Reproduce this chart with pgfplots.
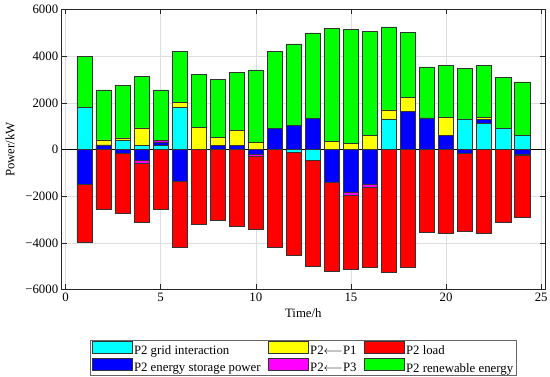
\documentclass[border=0pt]{standalone}
\usepackage{pgfplots}
\pgfplotsset{compat=1.18}
\usepackage{pgfplotstable}
\usepackage{fontspec}
\setmainfont{Liberation Serif}

\pgfplotstableread{
h grid stor p1 p3 load ren
1 1790 -1470 0 0 -2520 2200
2 0 200 210 0 -2560 2150
3 380 -180 120 0 -2570 2243
4 170 -470 760 -140 -2520 2200
5 170 120 0 100 -2560 2170
6 1810 -1370 210 0 -2840 2190
7 0 0 960 0 -3210 2250
8 0 170 360 0 -3020 2490
9 0 170 640 0 -3290 2490
10 0 -200 300 -100 -3110 3110
11 0 910 0 0 -4210 3300
12 -130 1040 0 0 -4410 3490
13 -440 1330 0 0 -4560 3670
14 0 -1420 360 0 -3780 4840
15 0 -1840 270 -140 -3170 4880
16 0 -1480 610 -120 -3460 4450
17 1310 0 390 0 -5250 3550
18 0 1640 600 0 -5040 2790
19 0 1360 0 0 -3540 2180
20 0 600 790 0 -3590 2200
21 1310 -140 0 0 -3360 2180
22 1130 170 90 0 -3610 2200
23 900 0 0 0 -3110 2200
24 600 -200 0 -60 -2640 2300
}\datatable

\definecolor{edgec}{gray}{0.2}
\definecolor{cC}{rgb}{0,1,1}
\definecolor{cB}{rgb}{0,0,1}
\definecolor{cY}{rgb}{1,1,0}
\definecolor{cM}{rgb}{1,0,1}
\definecolor{cR}{rgb}{1,0,0}
\definecolor{cG}{rgb}{0,1,0}
\pgfplotsset{
  common/.style={
    width=483.3pt, height=280pt, scale only axis,
    xmin=-0.2, xmax=25.2, ymin=-6000, ymax=6000,
    ybar stacked, bar width=0.8,
    every axis plot/.append style={draw=edgec, line width=0.5pt},
  },
  swatch/.style={legend image code/.code={\draw[##1, line width=0.5pt] (0pt,-2pt) rectangle (40pt,10.3pt);}},
}

\begin{document}
\begin{tikzpicture}[font=\fontsize{12.8}{15.4}\selectfont]
\begin{axis}[common,
  xtick={0,5,...,25},
  ytick={-6000,-4000,...,6000},
  yticklabels={−6000,−4000,−2000,0,2000,4000,6000},
  /pgf/number format/assume math mode=true,
  scaled y ticks=false,
  tick align=inside, major tick length=5pt,
  tick style={color=black!85, line width=0.5pt},
  axis line style={black!85, line width=0.6pt},
  grid=major, major grid style={color=black!13, line width=0.5pt},
  xlabel={Time/h}, ylabel={Power/kW},
  ylabel style={yshift=4pt},
  legend columns=3,
  legend cell align=left,
  legend style={at={(0.5,-0.18)}, anchor=north, draw=black!60, line width=0.5pt,
    font=\fontsize{12.8}{15.4}\selectfont,
    inner xsep=2pt, inner ysep=0.5pt,
    nodes={inner sep=1.5pt},
    /tikz/every even column/.append style={column sep=6pt}},
]
\addlegendimage{swatch, fill=cC, draw=edgec}
\addlegendentry{P2 grid interaction}
\addlegendimage{swatch, fill=cY, draw=edgec}
\addlegendentry{P2$\longleftarrow$P1}
\addlegendimage{swatch, fill=cR, draw=edgec}
\addlegendentry{P2 load}
\addlegendimage{swatch, fill=cB, draw=edgec}
\addlegendentry{P2 energy storage power}
\addlegendimage{swatch, fill=cM, draw=edgec}
\addlegendentry{P2$\longleftarrow$P3}
\addlegendimage{swatch, fill=cG, draw=edgec}
\addlegendentry{P2 renewable energy}

\addplot[fill=cC] table[x=h, y expr={max(\thisrow{grid},0)}] {\datatable};
\addplot[fill=cB] table[x=h, y expr={max(\thisrow{stor},0)}] {\datatable};
\addplot[fill=cY] table[x=h, y expr={max(\thisrow{p1},0)}] {\datatable};
\addplot[fill=cM] table[x=h, y expr={max(\thisrow{p3},0)}] {\datatable};
\addplot[fill=cG] table[x=h, y=ren] {\datatable};
\end{axis}
\begin{axis}[common, hide axis]
\addplot[fill=cC] table[x=h, y expr={min(\thisrow{grid},0)}] {\datatable};
\addplot[fill=cB] table[x=h, y expr={min(\thisrow{stor},0)}] {\datatable};
\addplot[fill=cY] table[x=h, y expr={min(\thisrow{p1},0)}] {\datatable};
\addplot[fill=cM] table[x=h, y expr={min(\thisrow{p3},0)}] {\datatable};
\addplot[fill=cR] table[x=h, y=load] {\datatable};
\draw[black, line width=0.6pt] (axis cs:-0.2,0) -- (axis cs:25.2,0);
\end{axis}
\pgfresetboundingbox
\path[use as bounding box] (-61.7pt,-87.5pt) rectangle (488.3pt,289.5pt);
\end{tikzpicture}
\end{document}
